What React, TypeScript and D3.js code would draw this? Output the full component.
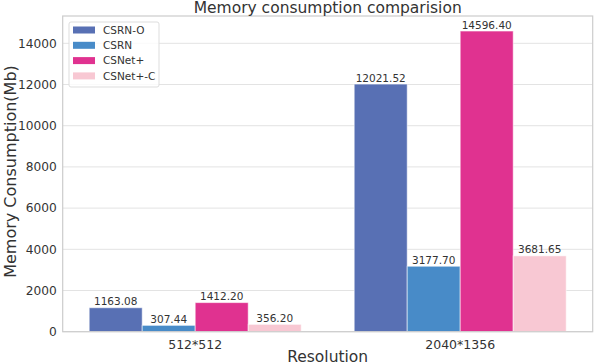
import React from "react";
import * as d3 from "d3";

const resolutions = ["512*512", "2040*1356"];
const methods = ["CSRN-O", "CSRN", "CSNet+", "CSNet+-C"];
const csrnO = [1163.08, 12021.52];
const csrn = [307.44, 3177.7];
const csnetPlus = [1412.2, 14596.4];
const csnetPlusC = [356.2, 3681.65];
const yTicks = [0, 2000, 4000, 6000, 8000, 10000, 12000, 14000];
const colors = ["#5870b4", "#488bc8", "#e03290", "#f8c8d3"];

const W = 594;
const H = 364;
const margin = { top: 16, right: 1.3, bottom: 32.3, left: 62.7 };
const font = "DejaVu Sans, sans-serif";
const textColor = "#333333";

export default function App() {
  const series = [csrnO, csrn, csnetPlus, csnetPlusC];
  const maxVal = d3.max(series.flat()) as number;

  const x0 = d3
    .scaleBand()
    .domain(resolutions)
    .range([margin.left, W - margin.right])
    .paddingInner(0.2)
    .paddingOuter(0.1);
  const x1 = d3.scaleBand().domain(methods).range([0, x0.bandwidth()]);
  const y = d3
    .scaleLinear()
    .domain([0, maxVal * 1.05])
    .range([H - margin.bottom, margin.top]);

  const plotL = margin.left;
  const plotR = W - margin.right;
  const plotT = margin.top;
  const plotB = H - margin.bottom;

  return (
    <div style={{ position: "fixed", left: 0, top: 0 }}>
      <svg width={W} height={H} style={{ display: "block", background: "#fff" }}>
        {/* grid */}
        {yTicks.map((t) => (
          <line
            key={"g" + t}
            x1={plotL}
            x2={plotR}
            y1={y(t)}
            y2={y(t)}
            stroke="#e3e3e3"
            strokeWidth={1}
          />
        ))}
        {/* bars */}
        {resolutions.map((r, i) => (
          <g key={r} transform={`translate(${x0(r)},0)`}>
            {methods.map((m, j) => {
              const v = series[j][i];
              return (
                <g key={m}>
                  <rect
                    x={x1(m)!}
                    y={y(v)}
                    width={x1.bandwidth()}
                    height={y(0) - y(v)}
                    fill={colors[j]}
                    stroke="#ffffff"
                    strokeOpacity={0.55}
                    strokeWidth={1}
                  />
                  <text
                    x={x1(m)! + x1.bandwidth() / 2}
                    y={y(v) - 2.5}
                    textAnchor="middle"
                    fontFamily={font}
                    fontSize={10.5}
                    fill={textColor}
                  >
                    {v.toFixed(2)}
                  </text>
                </g>
              );
            })}
          </g>
        ))}
        {/* frame */}
        <rect
          x={plotL}
          y={plotT}
          width={plotR - plotL}
          height={plotB - plotT}
          fill="none"
          stroke="#cccccc"
          strokeWidth={1.2}
        />
        {/* y ticks */}
        {yTicks.map((t) => (
          <text
            key={"t" + t}
            x={plotL - 6}
            y={y(t)}
            dy="0.35em"
            textAnchor="end"
            fontFamily={font}
            fontSize={12.2}
            fill={textColor}
          >
            {t}
          </text>
        ))}
        {/* x ticks */}
        {resolutions.map((r) => (
          <text
            key={"x" + r}
            x={x0(r)! + x0.bandwidth() / 2}
            y={plotB + 17}
            textAnchor="middle"
            fontFamily={font}
            fontSize={12.5}
            fill={textColor}
          >
            {r}
          </text>
        ))}
        {/* labels */}
        <text
          x={(plotL + plotR) / 2}
          y={13}
          textAnchor="middle"
          fontFamily={font}
          fontSize={15.5}
          fill={textColor}
        >
          Memory consumption comparision
        </text>
        <text
          x={(plotL + plotR) / 2}
          y={H - 2.5}
          textAnchor="middle"
          fontFamily={font}
          fontSize={15.5}
          fill={textColor}
        >
          Resolution
        </text>
        <text
          transform={`translate(15.5,171.5) rotate(-90)`}
          textAnchor="middle"
          fontFamily={font}
          fontSize={16}
          fill={textColor}
        >
          Memory Consumption(Mb)
        </text>
        {/* legend */}
        <g>
          <rect
            x={69}
            y={22}
            width={90}
            height={65}
            rx={2}
            fill="#ffffff"
            fillOpacity={0.8}
            stroke="#dddddd"
            strokeWidth={1}
          />
          {methods.map((m, j) => (
            <g key={"l" + m} transform={`translate(0,${30 + j * 15.3})`}>
              <rect x={73} y={-3.5} width={22} height={7} fill={colors[j]} />
              <text
                x={103}
                y={0}
                dy="0.35em"
                fontFamily={font}
                fontSize={10.5}
                fill={textColor}
              >
                {m}
              </text>
            </g>
          ))}
        </g>
      </svg>
    </div>
  );
}
